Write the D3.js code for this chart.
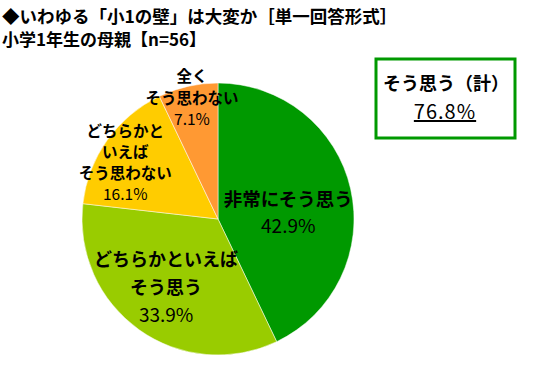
<!DOCTYPE html>
<html>
<head>
<meta charset="utf-8">
<script src="https://cdn.jsdelivr.net/npm/d3@7"></script>
<style>
  body { margin: 0; background: #fff; }
  text { font-family: "Noto Sans CJK JP", sans-serif; }
</style>
</head>
<body>
<div id="chart"></div>
<script>
// answer categories, clockwise from 12 o'clock
var categories = ["非常にそう思う", "どちらかといえばそう思う", "どちらかといえばそう思わない", "全くそう思わない"];
var values = [42.9, 33.9, 16.1, 7.1];
var colors = ["#009900", "#99CC00", "#FFCC00", "#FF9933"];
// label text, broken into lines as in the picture
var labelLines = [
    ["非常にそう思う"],
    ["どちらかといえば", "そう思う"],
    ["どちらかと", "いえば", "そう思わない"],
    ["全く", "そう思わない"]
];
var totalLabel = "そう思う（計）";
var totalValue = 76.8;

var width = 545, height = 389;
var cx = 218, cy = 219, radius = 136;

var svg = d3.select("#chart").append("svg")
    .attr("width", width)
    .attr("height", height);

// title
svg.append("text")
    .attr("x", 2).attr("y", 23)
    .attr("font-size", "17.5px").attr("font-weight", "bold")
    .text("◆いわゆる「小1の壁」は大変か［単一回答形式］");
svg.append("text")
    .attr("x", 2).attr("y", 46)
    .attr("font-size", "17px").attr("font-weight", "bold")
    .text("小学1年生の母親【n=56】");

var pie = d3.pie().sort(null).value(function (d) { return d; });
var arc = d3.arc().innerRadius(0).outerRadius(radius);
var arcs = pie(values);

var g = svg.append("g").attr("transform", "translate(" + cx + "," + cy + ")");

g.selectAll("path").data(arcs).enter()
    .append("path")
    .attr("d", arc)
    .attr("fill", function (d, i) { return colors[i]; })
    .attr("stroke", "#fff")
    .attr("stroke-width", 0.5);

// label placement: radius factor, nudges, line height, font sizes
var labelPos = [
    { r: 0.56, dx: -4, dy: 11, lh: 27, fs: 18.5, ps: 19 },
    { r: 0.62, dx: -3, dy: 0, lh: 27.5, fs: 18, ps: 19 },
    { r: 1.0, dx: 18, dy: 23, lh: 21, fs: 15.5, ps: 15.5 },
    { r: 1.0, dx: 4, dy: 12, lh: 21.5, fs: 15.5, ps: 15.5 }
];

arcs.forEach(function (a, i) {
    var p = labelPos[i];
    var mid = (a.startAngle + a.endAngle) / 2;
    var rr = radius * p.r;
    var x = Math.sin(mid) * rr + p.dx;
    var y = -Math.cos(mid) * rr + p.dy;
    var lines = labelLines[i];
    var n = lines.length + 1;
    var y0 = y - (n - 1) * p.lh / 2;
    var t = g.append("g").attr("transform", "translate(" + x + "," + y0 + ")");
    lines.forEach(function (s, k) {
        t.append("text")
            .attr("x", 0).attr("y", k * p.lh)
            .attr("dy", "0.35em")
            .attr("text-anchor", "middle")
            .attr("font-size", p.fs + "px")
            .attr("font-weight", "bold")
            .text(s);
    });
    t.append("text")
        .attr("x", 0).attr("y", lines.length * p.lh)
        .attr("dy", "0.35em")
        .attr("text-anchor", "middle")
        .attr("font-family", "Liberation Sans, Arial, sans-serif")
        .attr("font-size", p.ps + "px")
        .text(d3.format(".1f")(values[i]) + "%");
});

// summary box
var box = svg.append("g");
box.append("rect")
    .attr("x", 376).attr("y", 59)
    .attr("width", 139).attr("height", 79)
    .attr("fill", "#fff")
    .attr("stroke", "#009900")
    .attr("stroke-width", 3);
box.append("text")
    .attr("x", 446).attr("y", 84)
    .attr("dy", "0.35em")
    .attr("text-anchor", "middle")
    .attr("font-size", "18px").attr("font-weight", "bold")
    .text(totalLabel);
box.append("text")
    .attr("x", 445).attr("y", 112)
    .attr("dy", "0.35em")
    .attr("text-anchor", "middle")
    .attr("font-family", "Liberation Sans, Arial, sans-serif")
    .attr("font-size", "20px")
    .attr("letter-spacing", "1px")
    .attr("text-decoration", "underline")
    .text(d3.format(".1f")(totalValue) + "%");
</script>
</body>
</html>
